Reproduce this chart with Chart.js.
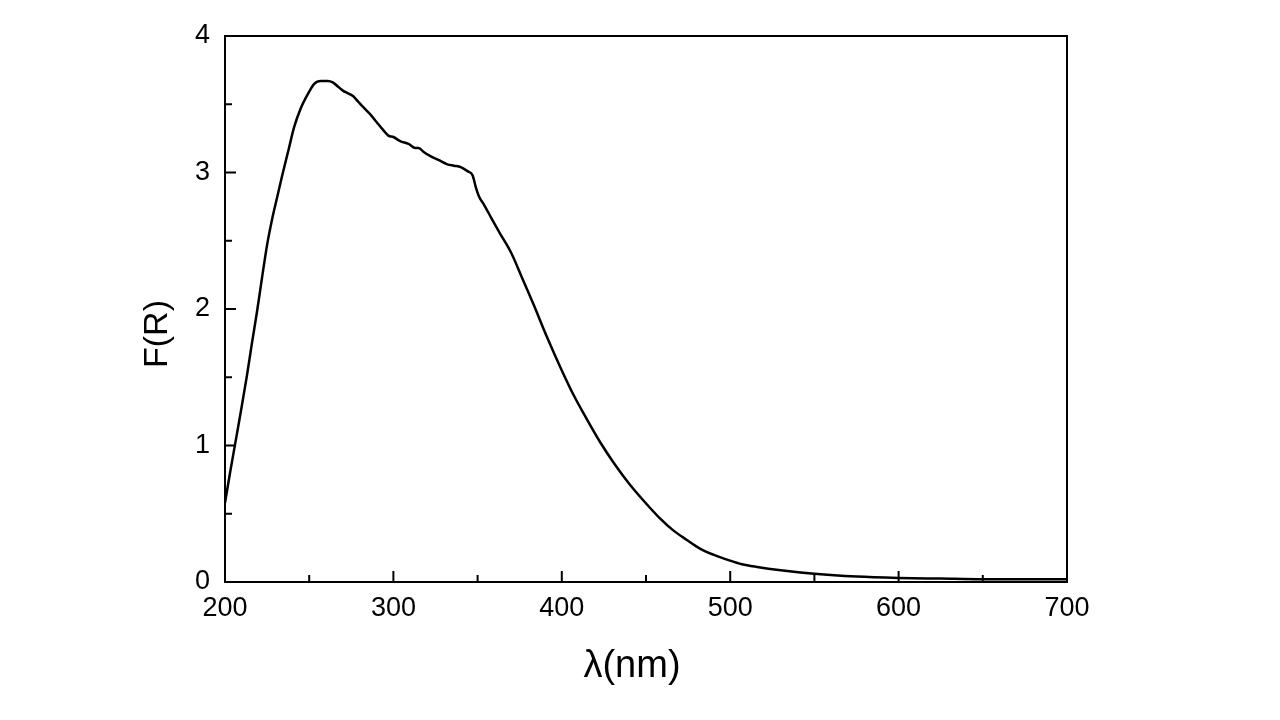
<!DOCTYPE html>
<html lang="en">
<head>
    <meta charset="UTF-8">
    <title>F(R) vs wavelength</title>
    <script src="https://cdn.jsdelivr.net/npm/chart.js"></script>
    <style>
        body {
            margin: 0;
            background-color: #ffffff;
        }
        #specChart {
            display: block;
        }
    </style>
</head>
<body>
    <canvas id="specChart" width="1280" height="720"></canvas>

    <script>
        // Wavelength (nm) and Kubelka-Munk F(R)
        const wavelengths = [
            200, 203, 206, 209, 213, 216, 219, 222, 225, 228,
            231, 234, 238, 241, 245, 249, 253, 257, 261, 264,
            267, 270, 273, 276, 279, 282, 286, 290, 294, 297,
            300, 304, 309, 313, 315, 318, 322, 327, 332, 336,
            340, 344, 347, 349, 351, 354, 358, 363, 370, 376,
            383, 391, 400, 407, 415, 423, 431, 440, 449, 458,
            466, 474, 482, 490, 499, 507, 516, 530, 550, 575,
            600, 625, 650, 675, 700
        ];
        const fR = [
            0.58, 0.80, 1.01, 1.22, 1.51, 1.75, 1.98, 2.23, 2.47, 2.66,
            2.82, 2.98, 3.18, 3.33, 3.47, 3.57, 3.65, 3.67, 3.67, 3.66,
            3.63, 3.60, 3.58, 3.56, 3.52, 3.48, 3.43, 3.37, 3.31, 3.27,
            3.26, 3.23, 3.21, 3.18, 3.18, 3.15, 3.12, 3.09, 3.06, 3.05,
            3.04, 3.01, 2.98, 2.89, 2.82, 2.76, 2.67, 2.56, 2.41, 2.24,
            2.04, 1.80, 1.55, 1.37, 1.19, 1.02, 0.87, 0.72, 0.59, 0.47,
            0.38, 0.31, 0.245, 0.20, 0.16, 0.13, 0.11, 0.086, 0.06, 0.04,
            0.03, 0.025, 0.02, 0.02, 0.02
        ];

        // Axis ticks and titles
        const xTickLabels = [200, 300, 400, 500, 600, 700];
        const xMinorTicks = [250, 350, 450, 550, 650];
        const yTickLabels = [0, 1, 2, 3, 4];
        const yMinorTicks = [0.5, 1.5, 2.5, 3.5];
        const xTitle = 'λ(nm)';
        const yTitle = 'F(R)';

        const fontFamily = '"Liberation Sans", Arial, Helvetica, sans-serif';

        // Closed frame, inward tick marks and the two axis titles
        const frameTicks = {
            id: 'frameTicks',
            afterDatasetsDraw(chart) {
                const { ctx, chartArea: a, scales: { x, y } } = chart;
                ctx.save();
                ctx.strokeStyle = '#000';
                ctx.lineWidth = 2;
                ctx.strokeRect(a.left, a.top, a.right - a.left, a.bottom - a.top);
                ctx.beginPath();
                xTickLabels.slice(1, -1).forEach(v => {
                    const px = x.getPixelForValue(v);
                    ctx.moveTo(px, a.bottom);
                    ctx.lineTo(px, a.bottom - 11);
                });
                xMinorTicks.forEach(v => {
                    const px = x.getPixelForValue(v);
                    ctx.moveTo(px, a.bottom);
                    ctx.lineTo(px, a.bottom - 7);
                });
                yTickLabels.slice(1, -1).forEach(v => {
                    const py = y.getPixelForValue(v);
                    ctx.moveTo(a.left, py);
                    ctx.lineTo(a.left + 11, py);
                });
                yMinorTicks.forEach(v => {
                    const py = y.getPixelForValue(v);
                    ctx.moveTo(a.left, py);
                    ctx.lineTo(a.left + 7, py);
                });
                ctx.stroke();

                // titles sit a little off-centre in the original
                ctx.fillStyle = '#000';
                ctx.textAlign = 'center';
                ctx.textBaseline = 'middle';
                ctx.font = '38px ' + fontFamily;
                ctx.fillText(xTitle, (a.left + a.right) / 2 - 14, a.bottom + 85);
                ctx.translate(a.left - 67, (a.top + a.bottom) / 2 + 25);
                ctx.rotate(-Math.PI / 2);
                ctx.font = '34px ' + fontFamily;
                ctx.fillText(yTitle, 0, 0);
                ctx.restore();
            }
        };

        const ctx = document.getElementById('specChart').getContext('2d');

        const specChart = new Chart(ctx, {
            type: 'line',
            data: {
                datasets: [{
                    label: 'F(R)',
                    data: wavelengths.map((w, i) => ({ x: w, y: fR[i] })),
                    borderColor: '#000',
                    borderWidth: 2.5,
                    pointRadius: 0,
                    cubicInterpolationMode: 'monotone',
                    fill: false
                }]
            },
            options: {
                responsive: false,
                animation: false,
                layout: {
                    padding: { left: 0, right: 213, top: 36, bottom: 0 }
                },
                plugins: {
                    legend: { display: false },
                    tooltip: { enabled: false }
                },
                scales: {
                    x: {
                        type: 'linear',
                        min: 200,
                        max: 700,
                        afterBuildTicks: (scale) => {
                            scale.ticks = xTickLabels.map(v => ({ value: v }));
                        },
                        afterFit: (scale) => { scale.height = 138; },
                        grid: { display: false, drawTicks: false },
                        border: { display: false },
                        ticks: {
                            color: '#000',
                            padding: 10,
                            maxRotation: 0,
                            font: { family: fontFamily, size: 27 }
                        }
                    },
                    y: {
                        type: 'linear',
                        min: 0,
                        max: 4,
                        afterBuildTicks: (scale) => {
                            scale.ticks = yTickLabels.map(v => ({ value: v }));
                        },
                        afterFit: (scale) => { scale.width = 225; },
                        grid: { display: false, drawTicks: false },
                        border: { display: false },
                        ticks: {
                            color: '#000',
                            padding: 15,
                            font: { family: fontFamily, size: 27 }
                        }
                    }
                }
            },
            plugins: [frameTicks]
        });
    </script>
</body>
</html>
